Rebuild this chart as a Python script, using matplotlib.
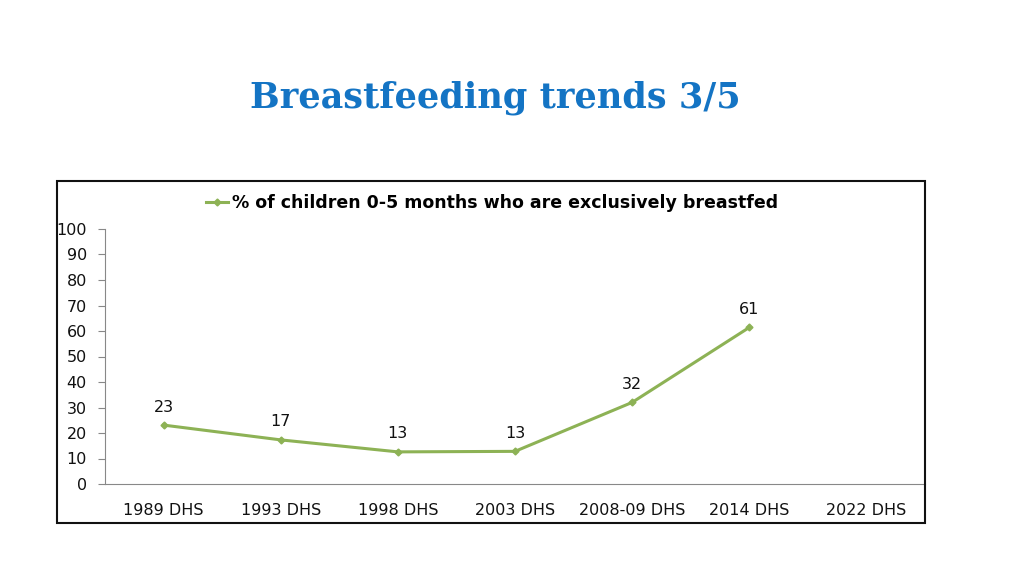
import matplotlib
matplotlib.use("Agg")
import matplotlib.pyplot as plt
from matplotlib.patches import Rectangle
from matplotlib.lines import Line2D

categories = ["1989 DHS", "1993 DHS", "1998 DHS", "2003 DHS", "2008-09 DHS", "2014 DHS", "2022 DHS"]
values = [23.1, 17.3, 12.6, 12.8, 32.0, 61.4]
labels = ["23", "17", "13", "13", "32", "61"]
series_name = "% of children 0-5 months who are exclusively breastfed"
yticks = [0, 10, 20, 30, 40, 50, 60, 70, 80, 90, 100]

W, H = 1024, 576
fig = plt.figure(figsize=(W/100, H/100), dpi=100)
fig.patch.set_facecolor("white")

fig.text(495/W, 1 - 98/H, "Breastfeeding trends 3/5", ha="center", va="center",
         fontsize=25.3, fontweight="bold", color="#1474C4", family="DejaVu Serif")

# chart frame
fig.patches.append(Rectangle((57/W, 1 - 523/H), (925-57)/W, (523-181)/H,
                             transform=fig.transFigure, fill=False,
                             edgecolor="#111111", linewidth=1.5))

ax = fig.add_axes([105/W, 1 - 484/H, (925-105)/W, (484-229)/H])
green = "#8DB255"
x = list(range(len(values)))
ax.plot(x, values, color=green, linewidth=2.2, marker="D", markersize=3.5)
for xi, v, lab in zip(x, values, labels):
    ax.annotate(lab, (xi, v), xytext=(0, 7.5), textcoords="offset points",
                ha="center", va="bottom", fontsize=11.5, color="#111111")

ax.set_xlim(-0.5, len(categories) - 0.5)
ax.set_ylim(0, 100)
ax.set_xticks(range(len(categories)))
ax.set_xticklabels(categories, fontsize=11.5, color="#111111")
ax.set_yticks(yticks)
ax.set_yticklabels([str(t) for t in yticks], fontsize=11.5, color="#111111")
ax.tick_params(axis="x", length=0, pad=14)
ax.tick_params(axis="y", length=5, color="#888888", pad=8)
for s in ["top", "right"]:
    ax.spines[s].set_visible(False)
ax.spines["left"].set_color("#888888")
ax.spines["bottom"].set_color("#888888")
ax.patch.set_alpha(0)

handle = Line2D([], [], color=green, linewidth=2.2, marker="D", markersize=3.5)
fig.legend([handle], [series_name], loc="center", bbox_to_anchor=(492/W, 1 - 203/H),
           frameon=False, handlelength=1.3, handletextpad=0.2,
           prop={"weight": "bold", "size": 12.5})

fig.savefig("out.png", dpi=100)
